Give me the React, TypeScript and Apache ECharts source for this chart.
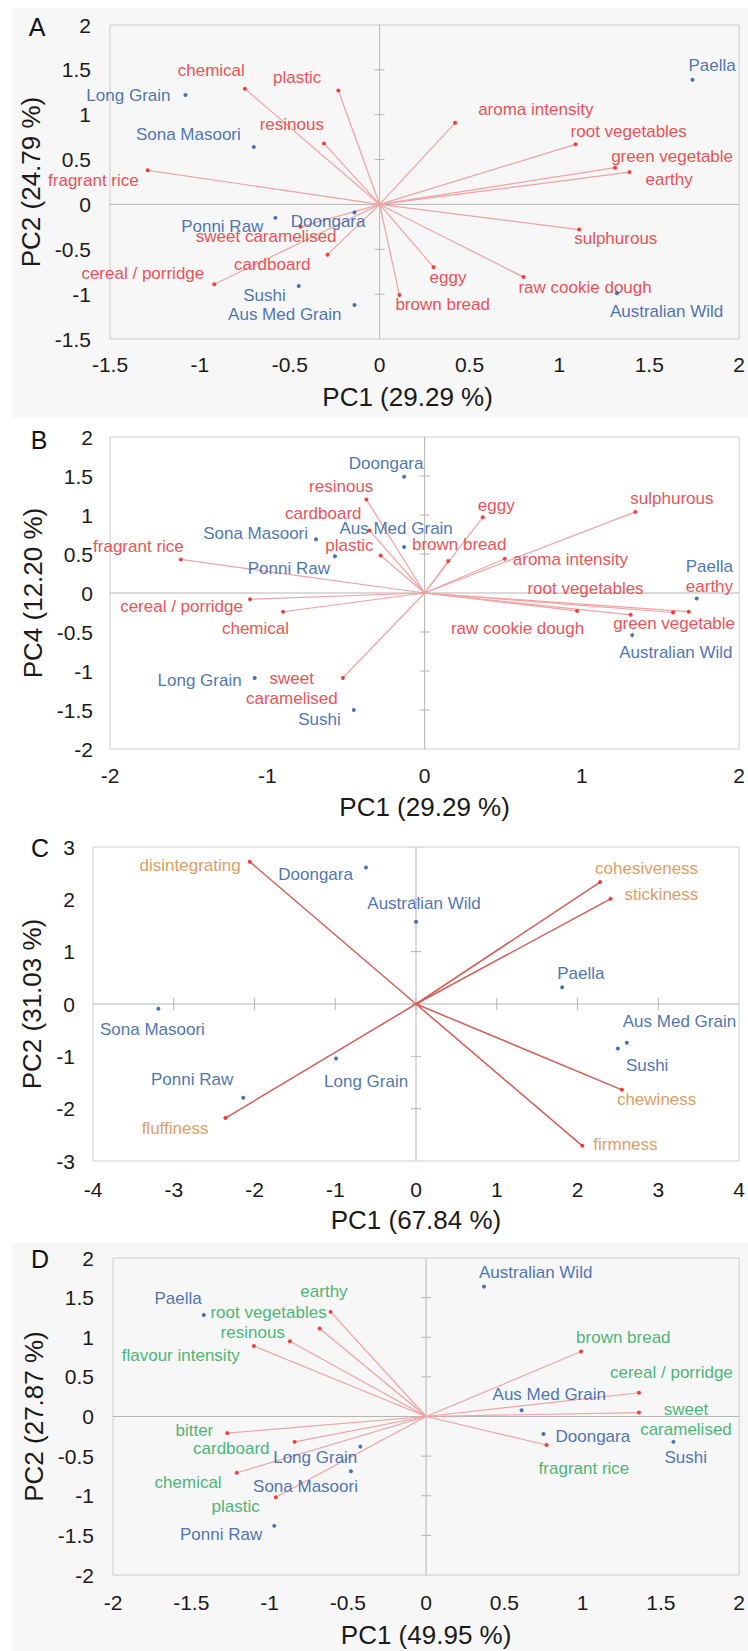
import React, { useEffect, useRef } from "react";
import * as echarts from "echarts";

const FONT = "'Liberation Sans', Arial, Helvetica, sans-serif";

// ---------- Panel A : PC1 x PC2 (aroma) ----------
const ticksA_x = [-1.5, -1, -0.5, 0, 0.5, 1, 1.5, 2];
const ticksA_y = [-1.5, -1, -0.5, 0, 0.5, 1, 1.5, 2];
const samplesA = ["Long Grain", "Sona Masoori", "Ponni Raw", "Doongara", "Sushi", "Aus Med Grain", "Paella", "Australian Wild"];
const samplesA_pc1 = [-1.08, -0.70, -0.58, -0.14, -0.45, -0.14, 1.74, 1.32];
const samplesA_pc2 = [1.22, 0.64, -0.15, -0.09, -0.91, -1.12, 1.39, -0.99];
const attrsA = ["chemical", "plastic", "resinous", "fragrant rice", "sweet caramelised", "cardboard", "cereal / porridge", "aroma intensity", "root vegetables", "green vegetable", "earthy", "sulphurous", "eggy", "brown bread", "raw cookie dough"];
const attrsA_pc1 = [-0.75, -0.23, -0.31, -1.29, -0.44, -0.29, -0.92, 0.42, 1.09, 1.31, 1.39, 1.11, 0.30, 0.11, 0.80];
const attrsA_pc2 = [1.29, 1.27, 0.68, 0.38, -0.25, -0.56, -0.89, 0.91, 0.67, 0.41, 0.36, -0.28, -0.70, -1.01, -0.81];

// ---------- Panel B : PC1 x PC4 (aroma) ----------
const ticksB_x = [-2, -1, 0, 1, 2];
const ticksB_y = [-2, -1.5, -1, -0.5, 0, 0.5, 1, 1.5, 2];
const samplesB = ["Doongara", "Sona Masoori", "Aus Med Grain", "Ponni Raw", "Paella", "Australian Wild", "Long Grain", "Sushi"];
const samplesB_pc1 = [-0.13, -0.69, -0.13, -0.57, 1.73, 1.32, -1.08, -0.45];
const samplesB_pc4 = [1.49, 0.69, 0.59, 0.47, -0.07, -0.54, -1.09, -1.50];
const attrsB = ["resinous", "cardboard", "plastic", "fragrant rice", "eggy", "brown bread", "aroma intensity", "sulphurous", "cereal / porridge", "chemical", "sweet\ncaramelised", "root vegetables", "raw cookie dough", "green vegetable", "earthy"];
const attrsB_pc1 = [-0.37, -0.35, -0.28, -1.55, 0.37, 0.15, 0.51, 1.34, -1.11, -0.90, -0.52, 1.31, 0.97, 1.58, 1.68];
const attrsB_pc4 = [1.20, 0.80, 0.48, 0.43, 0.97, 0.41, 0.44, 1.04, -0.08, -0.24, -1.09, -0.28, -0.23, -0.25, -0.24];

// ---------- Panel C : PC1 x PC2 (texture) ----------
const ticksC_x = [-4, -3, -2, -1, 0, 1, 2, 3, 4];
const ticksC_y = [-3, -2, -1, 0, 1, 2, 3];
const samplesC = ["Doongara", "Australian Wild", "Paella", "Sona Masoori", "Aus Med Grain", "Sushi", "Long Grain", "Ponni Raw"];
const samplesC_pc1 = [-0.62, 0.0, 1.81, -3.19, 2.61, 2.50, -0.99, -2.14];
const samplesC_pc2 = [2.61, 1.57, 0.32, -0.09, -0.74, -0.85, -1.04, -1.79];
const attrsC = ["disintegrating", "cohesiveness", "stickiness", "chewiness", "firmness", "fluffiness"];
const attrsC_pc1 = [-2.06, 2.28, 2.41, 2.55, 2.06, -2.36];
const attrsC_pc2 = [2.72, 2.33, 2.01, -1.64, -2.71, -2.18];

// ---------- Panel D : PC1 x PC2 (flavour) ----------
const ticksD_x = [-2, -1.5, -1, -0.5, 0, 0.5, 1, 1.5, 2];
const ticksD_y = [-2, -1.5, -1, -0.5, 0, 0.5, 1, 1.5, 2];
const samplesD = ["Australian Wild", "Paella", "Aus Med Grain", "Doongara", "Sushi", "Long Grain", "Sona Masoori", "Ponni Raw"];
const samplesD_pc1 = [0.37, -1.42, 0.61, 0.75, 1.58, -0.42, -0.48, -0.97];
const samplesD_pc2 = [1.64, 1.28, 0.08, -0.22, -0.32, -0.38, -0.69, -1.38];
const attrsD = ["earthy", "root vegetables", "resinous", "flavour intensity", "brown bread", "cereal / porridge", "sweet\ncaramelised", "fragrant rice", "bitter", "cardboard", "chemical", "plastic"];
const attrsD_pc1 = [-0.61, -0.68, -0.87, -1.10, 0.99, 1.36, 1.36, 0.77, -1.27, -0.84, -1.21, -0.96];
const attrsD_pc2 = [1.32, 1.11, 0.95, 0.89, 0.82, 0.30, 0.05, -0.36, -0.21, -0.32, -0.71, -1.02];

// ---------- label placement (style, separate from data) ----------
type Lab = [number, number, string];
const labA: Record<string, Lab> = {
  "Long Grain": [-15, 1, "right"], "Sona Masoori": [-13, -13, "right"], "Ponni Raw": [-12, 9, "right"],
  "Doongara": [11, 9, "right"], "Sushi": [-13, 9, "right"], "Aus Med Grain": [-13, 10, "right"],
  "Paella": [-4, -14, "left"], "Australian Wild": [-7, 18, "left"],
  "chemical": [0, -18, "right"], "plastic": [-17, -13, "right"], "resinous": [0, -19, "right"],
  "fragrant rice": [-9, 10, "right"], "sweet caramelised": [36, 10, "right"], "cardboard": [-17, 10, "right"],
  "cereal / porridge": [-10, -11, "right"], "aroma intensity": [23, -13, "left"], "root vegetables": [-5, -13, "left"],
  "green vegetable": [-4, -11, "left"], "earthy": [16, 7, "left"], "sulphurous": [-5, 9, "left"],
  "eggy": [-4, 10, "left"], "brown bread": [-4, 9, "left"], "raw cookie dough": [-5, 10, "left"],
};
const labB: Record<string, Lab> = {
  "Doongara": [-18, -13, "center"], "Sona Masoori": [-8, -6, "right"], "Aus Med Grain": [-8, -18, "center"],
  "Ponni Raw": [-5, 12, "right"], "Paella": [-11, -32, "left"], "Australian Wild": [-13, 17, "left"],
  "Long Grain": [-13, 2, "right"], "Sushi": [-13, 9, "right"],
  "resinous": [7, -13, "right"], "cardboard": [-8, -17, "right"], "plastic": [-7, -10, "right"],
  "fragrant rice": [3, -13, "right"], "eggy": [-5, -12, "left"], "brown bread": [11, -17, "center"],
  "aroma intensity": [8, 1, "left"], "sulphurous": [-5, -13, "left"], "cereal / porridge": [-7, 7, "right"],
  "chemical": [6, 17, "right"], "sweet\ncaramelised": [-51, 10, "center"], "root vegetables": [13, -26, "right"],
  "raw cookie dough": [7, 18, "right"], "green vegetable": [1, 11, "center"], "earthy": [-3, -25, "left"],
};
const labC: Record<string, Lab> = {
  "Doongara": [-13, 7, "right"], "Australian Wild": [8, -18, "center"], "Paella": [-5, -14, "left"],
  "Sona Masoori": [-6, 21, "center"], "Aus Med Grain": [-4, -21, "left"], "Sushi": [8, 17, "left"],
  "Long Grain": [-12, 23, "left"], "Ponni Raw": [-10, -18, "right"],
  "disintegrating": [-9, 4, "right"], "cohesiveness": [-5, -14, "left"], "stickiness": [14, -4, "left"],
  "chewiness": [-5, 10, "left"], "firmness": [11, -1, "left"], "fluffiness": [-17, 10, "right"],
};
const labD: Record<string, Lab> = {
  "Australian Wild": [-5, -14, "left"], "Paella": [-2, -17, "right"], "Aus Med Grain": [-29, -16, "left"],
  "Doongara": [12, 3, "left"], "Sushi": [-9, 16, "left"], "Long Grain": [-3, 11, "right"],
  "Sona Masoori": [7, 15, "right"], "Ponni Raw": [-12, 9, "right"],
  "earthy": [17, -20, "right"], "root vegetables": [7, -16, "right"], "resinous": [-5, -9, "right"],
  "flavour intensity": [-14, 10, "right"], "brown bread": [-5, -14, "left"], "cereal / porridge": [-29, -20, "left"],
  "sweet\ncaramelised": [47, 7, "center"], "fragrant rice": [-8, 23, "left"], "bitter": [-14, -3, "right"],
  "cardboard": [-25, 7, "right"], "chemical": [-15, 10, "right"], "plastic": [-16, 9, "right"],
};

const BLUE = "#1b4fa5";
const RED_TXT = "#ec2228";
const RED_DOT = "#f21414";
const ORANGE = "#d9803a";
const GREEN = "#17a452";
const ZERO = "#b5b5b5";
const BORDER = "#cccccc";
const PANEL_BG = "#f7f7f7";

interface Panel {
  letter: string;
  grid: { left: number; top: number; width: number; height: number };
  bg: string;
  xt: number[]; yt: number[];
  xName: string; yName: string;
  xGap: number; yGap: number; xMargin: number; yMargin: number; xPad: number[];
  xTicks: boolean;
  samples: string[]; sx: number[]; sy: number[];
  attrs: string[]; ax: number[]; ay: number[];
  lab: Record<string, Lab>;
  attrColor: string; vecColor: string; vecWidth: number;
  letterPos: [number, number];
}

const panels: Panel[] = [
  {
    letter: "A", grid: { left: 110, top: 25, width: 634, height: 314 }, bg: PANEL_BG,
    xt: ticksA_x, yt: ticksA_y, xName: "PC1 (29.29 %)", yName: "PC2 (24.79 %)",
    xGap: 45, yGap: 59, xMargin: 15, yMargin: 19, xPad: [0, 34, 0, 0], xTicks: false,
    samples: samplesA, sx: samplesA_pc1, sy: samplesA_pc2, attrs: attrsA, ax: attrsA_pc1, ay: attrsA_pc2,
    lab: labA, attrColor: RED_TXT, vecColor: "#f2a2a2", vecWidth: 1.2, letterPos: [37, 27],
  },
  {
    letter: "B", grid: { left: 110, top: 437, width: 636, height: 312 }, bg: "transparent",
    xt: ticksB_x, yt: ticksB_y, xName: "PC1 (29.29 %)", yName: "PC4 (12.20 %)",
    xGap: 45, yGap: 59, xMargin: 16, yMargin: 17, xPad: [0, 0, 0, 0], xTicks: false,
    samples: samplesB, sx: samplesB_pc1, sy: samplesB_pc4, attrs: attrsB, ax: attrsB_pc1, ay: attrsB_pc4,
    lab: labB, attrColor: RED_TXT, vecColor: "#f2a2a2", vecWidth: 1.2, letterPos: [39, 440],
  },
  {
    letter: "C", grid: { left: 93, top: 847, width: 646, height: 314 }, bg: "transparent",
    xt: ticksC_x, yt: ticksC_y, xName: "PC1 (67.84 %)", yName: "PC2 (31.03 %)",
    xGap: 46, yGap: 42, xMargin: 18, yMargin: 18, xPad: [0, 0, 0, 0], xTicks: true,
    samples: samplesC, sx: samplesC_pc1, sy: samplesC_pc2, attrs: attrsC, ax: attrsC_pc1, ay: attrsC_pc2,
    lab: labC, attrColor: ORANGE, vecColor: "#d65c58", vecWidth: 1.5, letterPos: [40, 848],
  },
  {
    letter: "D", grid: { left: 113, top: 1258, width: 634, height: 317 }, bg: PANEL_BG,
    xt: ticksD_x, yt: ticksD_y, xName: "PC1 (49.95 %)", yName: "PC2 (27.87 %)",
    xGap: 47, yGap: 60, xMargin: 17, yMargin: 19, xPad: [0, 0, 0, 0], xTicks: false,
    samples: samplesD, sx: samplesD_pc1, sy: samplesD_pc2, attrs: attrsD, ax: attrsD_pc1, ay: attrsD_pc2,
    lab: labD, attrColor: GREEN, vecColor: "#f2a2a2", vecWidth: 1.2, letterPos: [40, 1259],
  },
];

function labelFor(lab: Record<string, Lab>, name: string) {
  const l = lab[name] || [0, -10, "center"];
  return { position: "inside", offset: [l[0], l[1]], align: l[2], verticalAlign: "middle" };
}

function buildOption() {
  const grid: any[] = [];
  const xAxis: any[] = [];
  const yAxis: any[] = [];
  const series: any[] = [];
  panels.forEach((p, i) => {
    grid.push({ ...p.grid, show: true, borderColor: BORDER, borderWidth: 1, backgroundColor: p.bg, containLabel: false });
    const xt = p.xt, yt = p.yt;
    xAxis.push({
      type: "value", gridIndex: i, min: xt[0], max: xt[xt.length - 1], interval: xt[1] - xt[0],
      axisLine: { show: false, onZero: false }, axisTick: { show: false }, splitLine: { show: false },
      axisLabel: { fontSize: 21, fontFamily: FONT, color: "#1a1a1a", margin: p.xMargin },
      name: p.xName, nameLocation: "middle", nameGap: p.xGap,
      nameTextStyle: { fontSize: 26, fontFamily: FONT, color: "#1a1a1a", padding: p.xPad },
    });
    yAxis.push({
      type: "value", gridIndex: i, min: yt[0], max: yt[yt.length - 1], interval: yt[1] - yt[0],
      axisLine: { show: false, onZero: false }, axisTick: { show: false }, splitLine: { show: false },
      axisLabel: { fontSize: 21, fontFamily: FONT, color: "#1a1a1a", margin: p.yMargin },
      name: p.yName, nameLocation: "middle", nameGap: p.yGap,
      nameTextStyle: { fontSize: 26, fontFamily: FONT, color: "#1a1a1a" },
    });
    // zero lines with ticks
    series.push({
      type: "custom", xAxisIndex: i, yAxisIndex: i, silent: true, z: 1, data: [[0, 0]],
      renderItem: (_params: any, api: any) => {
        const L = api.coord([xt[0], 0]);
        const R = api.coord([xt[xt.length - 1], 0]);
        const T = api.coord([0, yt[yt.length - 1]]);
        const B = api.coord([0, yt[0]]);
        const style = { stroke: ZERO, lineWidth: 1 };
        const children: any[] = [
          { type: "line", shape: { x1: L[0], y1: L[1], x2: R[0], y2: R[1] }, style },
          { type: "line", shape: { x1: T[0], y1: T[1], x2: B[0], y2: B[1] }, style },
        ];
        yt.forEach((v) => {
          if (v === yt[0] || v === yt[yt.length - 1]) return;
          const c = api.coord([0, v]);
          children.push({ type: "line", shape: { x1: c[0] - 5, y1: c[1], x2: c[0] + 5, y2: c[1] }, style });
        });
        if (p.xTicks) {
          xt.forEach((v) => {
            if (v === xt[0] || v === xt[xt.length - 1]) return;
            const c = api.coord([v, 0]);
            children.push({ type: "line", shape: { x1: c[0], y1: c[1] - 6, x2: c[0], y2: c[1] + 6 }, style });
          });
        }
        return { type: "group", children };
      },
    });
    // vectors
    series.push({
      type: "custom", xAxisIndex: i, yAxisIndex: i, silent: true, z: 2,
      data: p.ax.map((x, k) => [x, p.ay[k]]),
      renderItem: (_params: any, api: any) => {
        const o = api.coord([0, 0]);
        const e = api.coord([api.value(0), api.value(1)]);
        return { type: "line", shape: { x1: o[0], y1: o[1], x2: e[0], y2: e[1] }, style: { stroke: p.vecColor, lineWidth: p.vecWidth } };
      },
    });
    // attribute points
    series.push({
      type: "scatter", xAxisIndex: i, yAxisIndex: i, z: 3, symbolSize: 4, silent: true,
      itemStyle: { color: RED_DOT },
      label: { show: true, formatter: "{b}", color: p.attrColor, fontSize: 17, fontFamily: FONT, lineHeight: 20 },
      data: p.attrs.map((n, k) => ({ name: n, value: [p.ax[k], p.ay[k]], label: labelFor(p.lab, n) })),
    });
    // samples
    series.push({
      type: "scatter", xAxisIndex: i, yAxisIndex: i, z: 4, symbolSize: 4, silent: true,
      itemStyle: { color: BLUE },
      label: { show: true, formatter: "{b}", color: BLUE, fontSize: 17, fontFamily: FONT },
      data: p.samples.map((n, k) => ({ name: n, value: [p.sx[k], p.sy[k]], label: labelFor(p.lab, n) })),
    });
  });

  const graphic: any[] = [
    { type: "rect", z: -10, silent: true, shape: { x: 12, y: 8, width: 736, height: 410 }, style: { fill: PANEL_BG } },
    { type: "rect", z: -10, silent: true, shape: { x: 12, y: 1243, width: 736, height: 408 }, style: { fill: PANEL_BG } },
  ];
  panels.forEach((p) => {
    graphic.push({
      type: "text", x: p.letterPos[0], y: p.letterPos[1], silent: true,
      style: { text: p.letter, fontSize: 25, fontFamily: FONT, fill: "#111", align: "center", verticalAlign: "middle" },
    });
  });

  return {
    animation: false,
    backgroundColor: "#ffffff",
    grid, xAxis, yAxis, series, graphic,
  };
}

export default function App() {
  const ref = useRef<HTMLDivElement>(null);
  useEffect(() => {
    if (!ref.current) return;
    const chart = echarts.init(ref.current, undefined, { renderer: "svg" });
    chart.setOption(buildOption() as any);
    return () => chart.dispose();
  }, []);
  return (
    <div
      ref={ref}
      style={{ position: "absolute", left: 0, top: 0, width: 748, height: 1651 }}
    />
  );
}
